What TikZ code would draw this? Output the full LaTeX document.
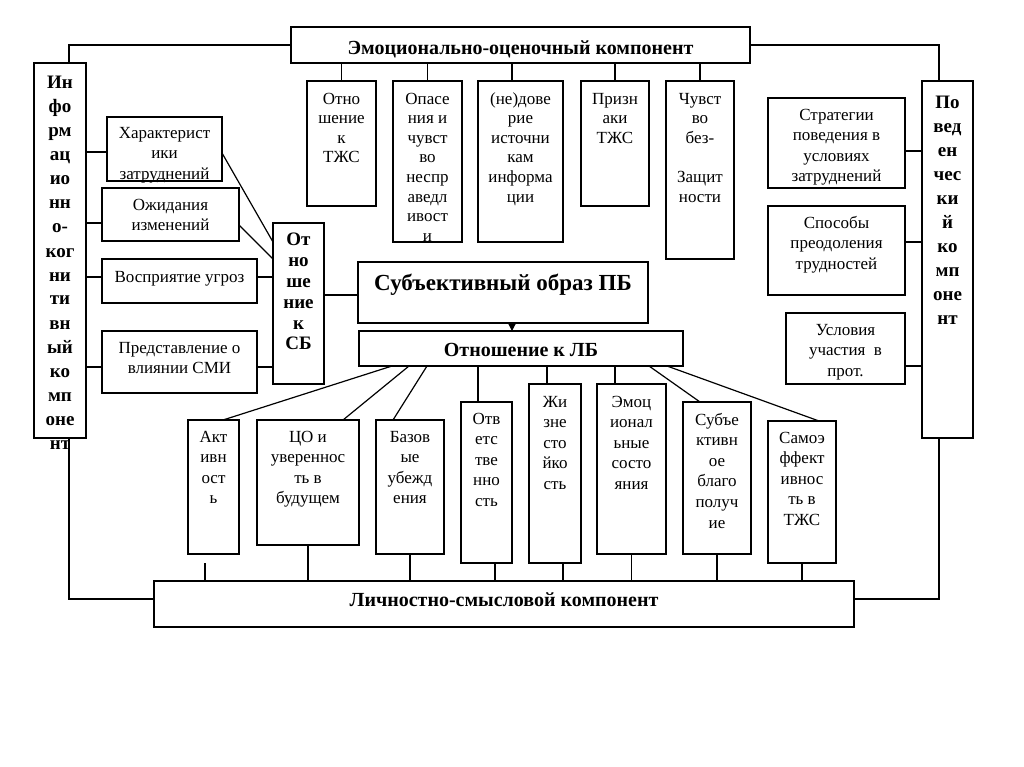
\documentclass[tikz,border=0pt]{standalone}
\usepackage{fontspec}
\setmainfont{Liberation Serif}
\usetikzlibrary{arrows.meta}
\tikzset{
  bx/.style={draw, line width=1.2pt, inner sep=0pt, outer sep=0pt, font=\fontsize{17}{20.6}\selectfont},
  tp/.style={font=\fontsize{17}{19.6}\selectfont},
  bd/.style={font=\bfseries\fontsize{19}{24}\selectfont},
  bt/.style={font=\bfseries\fontsize{20}{24}\selectfont},
  sbf/.style={font=\bfseries\fontsize{19}{20.8}\selectfont},
  big/.style={font=\bfseries\fontsize{23}{27}\selectfont},
  ln/.style={draw, line width=1.2pt},
}
% #1 style, #2 name, #3 x1, #4 y1, #5 x2, #6 y2, #7 top pad, #8 text
\newcommand\boxnode[8][]{%
  \node[bx,#1,anchor=north west] (#2) at (#3,#4)
    {\parbox[c][\dimexpr #6pt-#4pt\relax][t]{\dimexpr #5pt-#3pt\relax}{\vspace*{#7pt}\centering\strut #8}};}
\begin{document}
\begin{tikzpicture}[x=1pt,y=-1pt]
\useasboundingbox (0,0) rectangle (1024,767);
% main component boxes
\boxnode[bt]{E}{291}{27}{750}{63}{11.2}{Эмоционально-оценочный компонент}
\boxnode[bd]{L}{34}{63}{86}{438}{9.2}{Ин\\фо\\рм\\ац\\ио\\нн\\о-\\ког\\ни\\ти\\вн\\ый\\ко\\мп\\оне\\нт}
\boxnode[bd]{R}{922}{81}{973}{438}{10.3}{По\\вед\\ен\\чес\\ки\\й\\ко\\мп\\оне\\нт}
\boxnode[bt]{P}{154}{581}{854}{627}{8.2}{Личностно-смысловой компонент}
% left boxes
\boxnode{H}{107}{117}{222}{181}{6.6}{Характерист\\ики\\затруднений}
\boxnode{O}{102}{188}{239}{241}{7.6}{Ожидания\\изменений}
\boxnode{V}{102}{259}{257}{303}{8.6}{Восприятие угроз}
\boxnode{Pr}{102}{331}{257}{393}{7.6}{Представление о\\влиянии СМИ}
\boxnode[sbf]{SB}{273}{223}{324}{384}{8.4}{От\\но\\ше\\ние\\к\\СБ}
% centre
\boxnode[big]{S}{358}{262}{648}{323}{9.1}{Субъективный образ ПБ}
\boxnode[bt]{LB}{359}{331}{683}{366}{8.7}{Отношение к ЛБ}
% top row
\boxnode[tp]{T1}{307}{81}{376}{206}{9.3}{Отно\\шение\\к\\ТЖС}
\boxnode[tp]{T2}{393}{81}{462}{242}{9.3}{Опасе\\ния и\\чувст\\во\\неспр\\аведл\\ивост\\и}
\boxnode[tp]{T3}{478}{81}{563}{242}{9.3}{(не)дове\\рие\\источни\\кам\\информа\\ции}
\boxnode[tp]{T4}{581}{81}{649}{206}{9.3}{Призн\\аки\\ТЖС}
\boxnode[tp]{T5}{666}{81}{734}{259}{9.3}{Чувст\\во\\без-\\[19.6pt]Защит\\ности}
% right boxes
\boxnode{St}{768}{98}{905}{188}{7.6}{Стратегии\\поведения в\\условиях\\затруднений}
\boxnode{Sp}{768}{206}{905}{295}{7.6}{Способы\\преодоления\\трудностей}
\boxnode{U}{786}{313}{905}{384}{7.6}{Условия\\участия\ \ в\\прот.}
% bottom row
\boxnode{B1}{188}{420}{239}{554}{7.6}{Акт\\ивн\\ост\\ь}
\boxnode{B2}{257}{420}{359}{545}{7.6}{ЦО и\\уверенноc\\ть в\\будущем}
\boxnode{B3}{376}{420}{444}{554}{7.6}{Базов\\ые\\убежд\\ения}
\boxnode{B4}{461}{402}{512}{563}{7.6}{Отв\\етс\\тве\\нно\\сть}
\boxnode{B5}{529}{384}{581}{563}{8.6}{Жи\\зне\\сто\\йко\\сть}
\boxnode{B6}{597}{384}{666}{554}{8.6}{Эмоц\\ионал\\ьные\\состо\\яния}
\boxnode{B7}{683}{402}{751}{554}{8.6}{Субъе\\ктивн\\ое\\благо\\получ\\ие}
\boxnode{B8}{768}{421}{836}{563}{7.6}{Самоэ\\ффект\\ивнос\\ть в\\ТЖС}
% frame connectors
\draw[ln] (E.west) -| ([xshift=9pt]L.north);
\draw[ln] (E.east) -| ([xshift=-8.5pt]R.north);
\draw[ln] ([xshift=9pt]L.south) |- ([yshift=5pt]P.west);
\draw[ln] ([xshift=-8.5pt]R.south) |- ([yshift=5pt]P.east);
% top row connectors
\foreach \n/\dx in {T1/0,T2/0,T3/-8.5,T4/0,T5/0}
  \draw[ln] ([xshift=\dx pt]\n.north) -- ([xshift=\dx pt]\n.north |- E.south);
% left connectors
\draw[ln] ([yshift=-3pt]H.west) -- ([yshift=-3pt]H.west -| L.east);
\draw[ln] ([yshift=-8.5pt]O.west) -- ([yshift=-8.5pt]O.west -| L.east);
\draw[ln] ([yshift=4pt]V.west) -- ([yshift=4pt]V.west -| L.east);
\draw[ln] ([yshift=-5pt]Pr.west) -- ([yshift=-5pt]Pr.west -| L.east);
\draw[ln] ([yshift=4pt]V.east) -- ([yshift=4pt]V.east -| SB.west);
\draw[ln] ([yshift=-5pt]Pr.east) -- ([yshift=-5pt]Pr.east -| SB.west);
\draw[ln] ([yshift=-4pt]H.east) -- ([yshift=-19pt]SB.north west);
\draw[ln] ([yshift=-10.5pt]O.east) -- ([yshift=-36pt]SB.north west);
\draw[ln] ([yshift=-2.5pt]S.west) -- ([yshift=-2.5pt]S.west -| SB.east);
% arrow
\draw[line width=1.2pt,-{Stealth[length=8pt,width=8pt,inset=0pt]}] ([xshift=9pt]S.south) -- ([xshift=9pt]S.south |- LB.north);
% right connectors
\draw[ln] ([yshift=-8pt]St.east) -- ([yshift=-8pt]St.east -| R.west);
\draw[ln] ([yshift=8.5pt]Sp.east) -- ([yshift=8.5pt]Sp.east -| R.west);
\draw[ln] ([yshift=-17.5pt]U.east) -- ([yshift=-17.5pt]U.east -| R.west);
% LB to bottom row
\draw[ln] ([xshift=33pt]LB.south west) -- ([xshift=35pt]B1.north west);
\draw[ln] ([xshift=50pt]LB.south west) -- ([xshift=86pt]B2.north west);
\draw[ln] ([xshift=68pt]LB.south west) -- ([xshift=17pt]B3.north west);
\draw[ln] ([xshift=17pt]B4.north west) -- ([xshift=17pt]B4.north west |- LB.south);
\draw[ln] ([xshift=18pt]B5.north west) -- ([xshift=18pt]B5.north west |- LB.south);
\draw[ln] ([xshift=18pt]B6.north west) -- ([xshift=18pt]B6.north west |- LB.south);
\draw[ln] ([xshift=290pt]LB.south west) -- ([xshift=17pt]B7.north west);
\draw[ln] ([xshift=308pt]LB.south west) -- ([xshift=51pt]B8.north west);
% bottom row to P
\coordinate (B1d) at ([xshift=17pt,yshift=-9pt]B1.south west);
\draw[ln] (B1d) -- (B1d |- P.north);
\draw[ln] (B2.south) -- (B2.south |- P.north);
\draw[ln] (B3.south) -- (B3.south |- P.north);
\draw[ln] ([xshift=34pt]B4.south west) -- ([xshift=34pt]B4.south west |- P.north);
\draw[ln] ([xshift=34pt]B5.south west) -- ([xshift=34pt]B5.south west |- P.north);
\draw[ln] (B6.south) -- (B6.south |- P.north);
\draw[ln] (B7.south) -- (B7.south |- P.north);
\draw[ln] (B8.south) -- (B8.south |- P.north);
\end{tikzpicture}
\end{document}
